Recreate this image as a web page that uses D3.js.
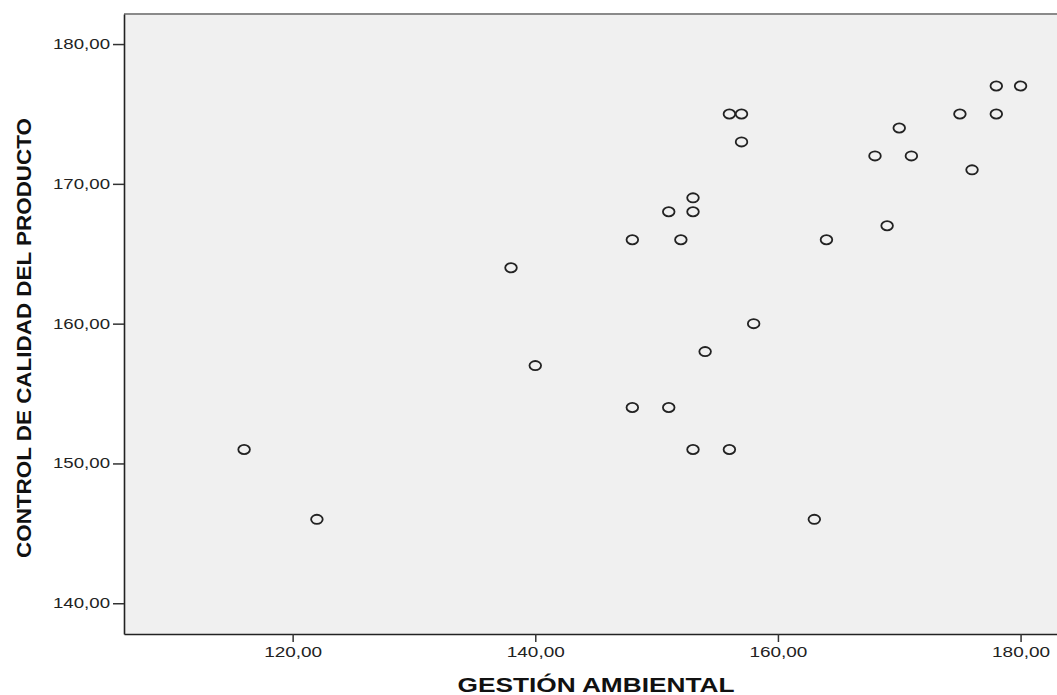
<!DOCTYPE html>
<html>
<head>
<meta charset="utf-8">
<script src="https://cdn.jsdelivr.net/npm/d3@7"></script>
<style>
  body { margin: 0; background: #fff; }
  svg { display: block; font-family: "Liberation Sans", Arial, sans-serif; }
</style>
</head>
<body>
<svg width="1057" height="695"></svg>
<script>
// datos leidos dal grafico
var gestion = [116, 122, 138, 140, 148, 148, 151, 151, 152, 153, 153, 153, 154, 156, 157, 157, 156, 158, 163, 164, 168, 169, 170, 171, 175, 176, 178, 178, 180];
var control = [151, 146, 164, 157, 166, 154, 168, 154, 166, 169, 168, 151, 158, 175, 175, 173, 151, 160, 146, 166, 172, 167, 174, 172, 175, 171, 177, 175, 177];
var xTicks = [120, 140, 160, 180];
var yTicks = [140, 150, 160, 170, 180];

var svg = d3.select("svg");
var left = 124, top_ = 14, right = 1060, bottom = 634;

var x = d3.scaleLinear().domain([106.1, 183.25]).range([left, right]);
var y = d3.scaleLinear().domain([137.8, 182.15]).range([bottom, top_]);

var fmt = function(d) { return d3.format(".2f")(d).replace(".", ","); };

// fondo
svg.append("rect")
    .attr("x", left).attr("y", top_)
    .attr("width", right - left).attr("height", bottom - top_)
    .style("fill", "#f0f0f0");

// borde superior gris
svg.append("line")
    .attr("x1", left).attr("x2", right)
    .attr("y1", top_).attr("y2", top_)
    .style("stroke", "#8a8a8a").style("stroke-width", 2);

// asse x
var gx = svg.append("g")
    .attr("transform", "translate(0," + bottom + ")")
    .call(d3.axisBottom(x).tickValues(xTicks).tickFormat(fmt).tickSize(8).tickSizeOuter(0).tickPadding(5));
gx.select(".domain").style("stroke", "#222").style("stroke-width", 1.6);
gx.selectAll(".tick line").style("stroke", "#333").style("stroke-width", 1.5);
gx.selectAll(".tick text")
    .style("font-size", "14px").style("fill", "#222")
    .attr("textLength", 58).attr("lengthAdjust", "spacingAndGlyphs");

// asse y
var gy = svg.append("g")
    .attr("transform", "translate(" + left + ",0)")
    .call(d3.axisLeft(y).tickValues(yTicks).tickFormat(fmt).tickSize(11).tickSizeOuter(0).tickPadding(3));
gy.select(".domain").style("stroke", "#222").style("stroke-width", 1.6);
gy.selectAll(".tick line").style("stroke", "#333").style("stroke-width", 1.5);
gy.selectAll(".tick text")
    .style("font-size", "14px").style("fill", "#222")
    .attr("textLength", 57).attr("lengthAdjust", "spacingAndGlyphs");

// punti
svg.append("g").selectAll("ellipse")
    .data(gestion)
    .enter().append("ellipse")
    .attr("cx", function(d) { return x(d); })
    .attr("cy", function(d, i) { return y(control[i]); })
    .attr("rx", 5.8).attr("ry", 4.6)
    .style("fill", "none")
    .style("stroke", "#222")
    .style("stroke-width", 1.8);

// titoli
svg.append("text")
    .attr("x", 596).attr("y", 692)
    .attr("text-anchor", "middle")
    .attr("textLength", 277).attr("lengthAdjust", "spacingAndGlyphs")
    .style("font-size", "20px").style("font-weight", "bold").style("fill", "#111")
    .text("GESTIÓN AMBIENTAL");

svg.append("text")
    .attr("transform", "translate(31,338) rotate(-90)")
    .attr("text-anchor", "middle")
    .attr("textLength", 440).attr("lengthAdjust", "spacingAndGlyphs")
    .style("font-size", "21px").style("font-weight", "bold").style("fill", "#111")
    .text("CONTROL DE CALIDAD DEL PRODUCTO");
</script>
</body>
</html>
